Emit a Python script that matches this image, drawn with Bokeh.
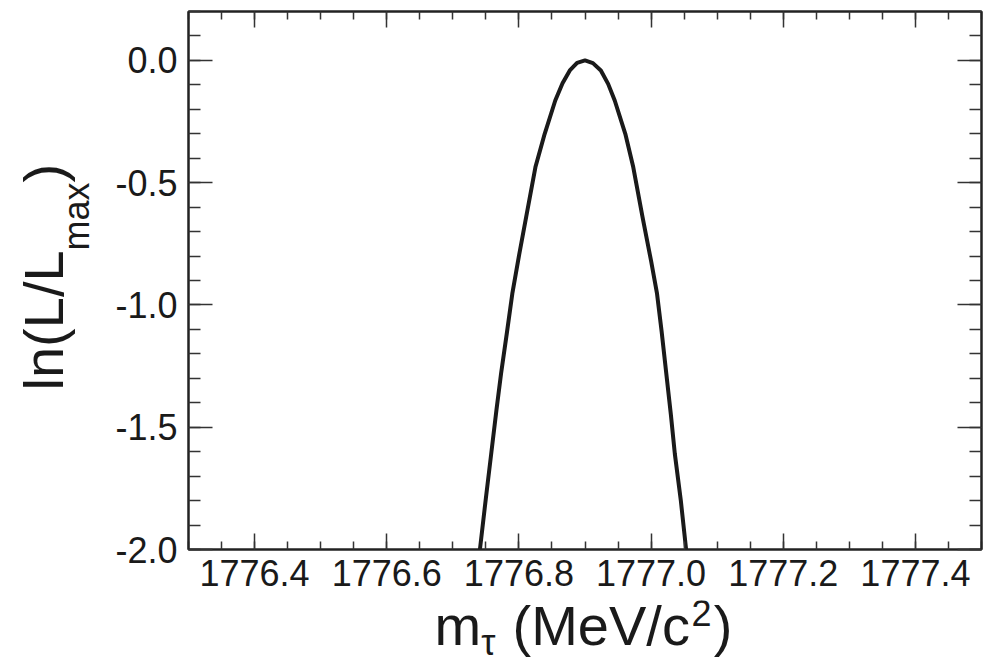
import math
from bokeh.plotting import figure
from bokeh.layouts import gridplot
from bokeh.models import (LinearAxis, SingleIntervalTicker, NumeralTickFormatter,
                          CustomJSTickFormatter, Range1d, ColumnDataSource)
from bokeh.core.properties import value
from bokeh.embed import file_html
from bokeh.resources import INLINE

# ---- data ----
mass = [1776.741, 1776.750, 1776.758, 1776.766, 1776.773, 1776.782, 1776.790,
        1776.800, 1776.811, 1776.825, 1776.839, 1776.855, 1776.866, 1776.877,
        1776.888, 1776.900, 1776.912, 1776.924, 1776.935, 1776.945, 1776.961,
        1776.973, 1776.987, 1777.000, 1777.009, 1777.016, 1777.023, 1777.030,
        1777.036, 1777.045, 1777.053]
ln_l = [-2.00, -1.79, -1.61, -1.43, -1.28, -1.11, -0.954,
        -0.80, -0.64, -0.436, -0.30, -0.164, -0.093, -0.041,
        -0.010, 0.000, -0.011, -0.041, -0.096, -0.164, -0.30,
        -0.436, -0.64, -0.82, -0.954, -1.11, -1.28, -1.45,
        -1.61, -1.80, -2.00]

x_range = (1776.3, 1777.5)
y_range = (-2.0, 0.2)
x_tick_step = 0.2
y_tick_step = 0.5

# title pieces (text, font size, baseline shift, gap before in em of 56px)
y_title = [("ln(L/L", 56, 0, 0.0), ("max", 36, 25, 0.0), (")", 56, 0, 0.0)]
x_title = [("m", 56, 0, 0.0), ("τ", 36, 9, 0.0), ("(MeV/c", 56, 0, 0.278),
           ("2", 36, -20, 0.03), (")", 56, 0, 0.04)]

FONT = "Liberation Sans"
TOTAL_W, TOTAL_H = 990, 659
YW = 100           # width of the y-title strip
HM = 600           # height of the main row
FRAME_L, FRAME_R, FRAME_T, FRAME_B = 188, 981, 11, 549
B_LEFT = FRAME_L - YW
B_RIGHT = TOTAL_W - FRAME_R
B_TOP = FRAME_T
B_BOTTOM = HM - FRAME_B
BASE_FIX = 0.39    # empirical baseline correction (em)

# ---------------- main plot ----------------
MW = TOTAL_W - YW
p = figure(width=MW, height=HM, output_backend="svg", toolbar_location=None,
           x_range=Range1d(*x_range), y_range=Range1d(*y_range),
           x_axis_type=None, y_axis_type=None, title=None,
           min_border_left=B_LEFT, min_border_right=B_RIGHT,
           min_border_top=B_TOP, min_border_bottom=B_BOTTOM)
p.grid.visible = False
p.outline_line_color = "#222222"
p.outline_line_width = 2
p.border_fill_color = "white"


def make_axis(kind, show_labels, major_in, minor_in):
    if kind == "x":
        tk = SingleIntervalTicker(interval=x_tick_step, num_minor_ticks=4)
    else:
        tk = SingleIntervalTicker(interval=y_tick_step, num_minor_ticks=5)
    if show_labels:
        fmt = NumeralTickFormatter(format="0.0")
    else:
        fmt = CustomJSTickFormatter(code="return ''")
    ax = LinearAxis(ticker=tk, formatter=fmt)
    ax.axis_line_color = "#222222"
    ax.axis_line_width = 2
    ax.major_tick_in = major_in
    ax.major_tick_out = 0
    ax.minor_tick_in = minor_in
    ax.minor_tick_out = 0
    ax.major_tick_line_color = "#333333"
    ax.major_tick_line_width = 1.5
    ax.minor_tick_line_color = "#333333"
    ax.minor_tick_line_width = 1.5
    ax.major_label_text_font = FONT
    ax.major_label_text_font_size = "36px"
    ax.major_label_text_color = "#1a1a1a"
    if not show_labels:
        ax.major_label_standoff = 0
    return ax


xb = make_axis("x", True, 16, 8)
xb.major_label_standoff = 10
yl = make_axis("y", True, 24, 12)
yl.major_label_standoff = 11
xt = make_axis("x", False, 16, 8)
yr = make_axis("y", False, 24, 12)
p.add_layout(xb, "below")
p.add_layout(yl, "left")
p.add_layout(xt, "above")
p.add_layout(yr, "right")

src = ColumnDataSource(dict(m=mass, l=ln_l))
p.line("m", "l", source=src, line_color="#1a1a1a", line_width=4,
       line_join="round")

# ---------------- helpers for title strips ----------------
EM = {"l": 0.222, "n": 0.556, "(": 0.333, ")": 0.333, "L": 0.556, "/": 0.278,
      "m": 0.833, "a": 0.556, "x": 0.5, " ": 0.278, "M": 0.833, "e": 0.556,
      "V": 0.667, "c": 0.5, "2": 0.556, "τ": 0.44}


def width(s, size):
    return sum(EM.get(ch, 0.55) for ch in s) * size


def strip(w, h, xr, yr_, borders):
    bl, br, bt, bb = borders
    f = figure(width=w, height=h, output_backend="svg", toolbar_location=None,
               x_range=Range1d(*xr), y_range=Range1d(*yr_), title=None,
               x_axis_type=None, y_axis_type=None,
               min_border_left=bl, min_border_right=br, min_border_top=bt,
               min_border_bottom=bb)
    f.grid.visible = False
    f.outline_line_color = None
    f.border_fill_color = "white"
    return f


def add_pieces(f, pieces, x0, y0, vertical):
    xs, ys, ts, sizes, angles = [], [], [], [], []
    pos = 0.0
    for txt, size, shift, gap in pieces:
        pos += gap * 56
        fix = BASE_FIX * size
        if vertical:
            xs.append(x0 + shift - fix)
            ys.append(y0 - pos)
            angles.append(math.pi / 2)
        else:
            xs.append(x0 + pos)
            ys.append(y0 + shift - fix)
            angles.append(0.0)
        ts.append(txt)
        sizes.append(f"{size}px")
        pos += width(txt, size)
    s = ColumnDataSource(dict(x=xs, y=ys, t=ts, s=sizes, a=angles))
    f.text("x", "y", text="t", angle="a", source=s, text_font=value(FONT),
           text_font_size="s", text_color="#1a1a1a", text_align="left",
           text_baseline="alphabetic")


# y title strip: frame spans image x 0..YW, image y FRAME_T..FRAME_B
yf = strip(YW, HM, (0, YW), (FRAME_B, FRAME_T), (0, 0, B_TOP, B_BOTTOM))
add_pieces(yf, y_title, 65, 390, True)

# x title strip: frame spans image x FRAME_L..FRAME_R, image y HM..TOTAL_H
XH = TOTAL_H - HM
xf = strip(MW, XH, (FRAME_L, FRAME_R), (TOTAL_H, HM), (B_LEFT, B_RIGHT, 0, 0))
add_pieces(xf, x_title, 434, 647, False)

grid = gridplot([[yf, p], [None, xf]], toolbar_location=None)

open("out.html", "w").write(file_html(grid, INLINE))
